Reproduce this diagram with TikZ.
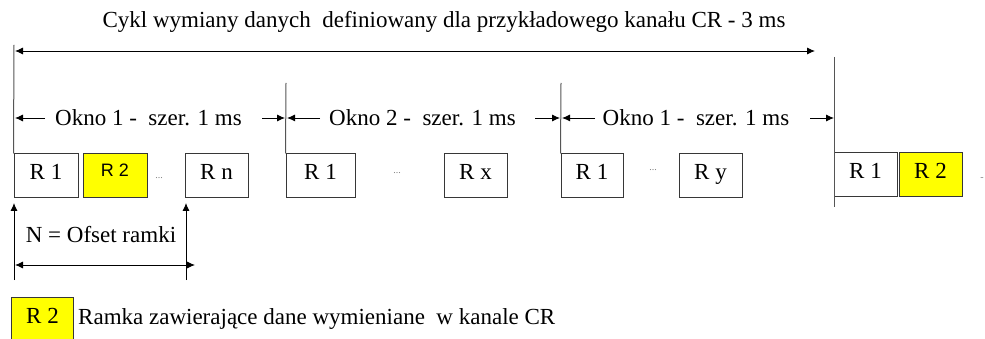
\documentclass[tikz,border=0pt]{standalone}
\usepackage{fontspec}
\setmainfont{Liberation Serif}
\newfontfamily\arialfont{Liberation Sans}
\usetikzlibrary{arrows.meta}
\definecolor{frameyellow}{RGB}{255,255,0}
\definecolor{framegray}{RGB}{55,55,55}
\definecolor{divgray}{RGB}{85,85,85}
\begin{document}
\begin{tikzpicture}[x=1pt,y=-1pt,
  font=\fontsize{23}{27}\selectfont,
  frame/.style={draw=framegray, line width=1pt, minimum height=44pt,
    inner sep=0pt, text height=12pt, text depth=4pt},
  hot/.style={fill=frameyellow},
  dots/.style={inner sep=0pt, text=gray, font=\fontsize{10}{10}\selectfont},
  lbl/.style={anchor=base, inner sep=0pt},
  tip/.style={-{Latex[length=8pt,width=7pt]}, line width=0.9pt},
  twotip/.style={{Latex[length=8pt,width=7pt]}-{Latex[length=8pt,width=7pt]}, line width=0.9pt},
  divider/.style={draw=divgray, line width=1pt}]
\path[use as bounding box, fill=white] (0,0) rectangle (985,339);

% title and the whole-cycle arrow
\node[lbl] (title) at (444,28) {Cykl wymiany danych\ \ definiowany dla przykładowego kanału CR - 3 ms};
\coordinate (cycL) at (15,51);
\coordinate (cycR) at (815,51);
\draw[twotip] (cycL) -- (cycR);

% frames in the three windows and the start of the next cycle
\node[frame, minimum width=64pt] (a1) at (46,176) {R 1};
\node[frame, hot, minimum width=64pt, font=\arialfont\fontsize{18}{20}\selectfont,
  text height=8pt, text depth=6pt] (a2) at (115,176) {R 2};
\node[dots] (adots) at (159,178) {...};
\node[frame, minimum width=63pt] (an) at (216.5,176) {R n};

\node[frame, minimum width=69pt] (b1) at (320.5,176) {R 1};
\node[dots] (bdots) at (397,173) {...};
\node[frame, minimum width=63pt] (bx) at (475.5,176) {R x};

\node[frame, minimum width=62pt] (c1) at (592,176) {R 1};
\node[dots] (cdots) at (653,170) {...};
\node[frame, minimum width=63pt] (cy) at (710.5,176) {R y};

\node[frame, minimum width=63pt] (d1) at (865.5,175) {R 1};
\node[frame, hot, minimum width=63pt] (d2) at (930.5,175) {R 2};
\node[dots] (ddots) at (982,179) {-};

% window boundaries
\coordinate (v0) at (14,45);
\coordinate (v1) at (286,83);
\coordinate (v2) at (561,83);
\coordinate (v3t) at (834,57);
\coordinate (v3b) at (834,207);
\draw[divider] (v0) -- (a1.north west);
\draw[divider] (v1) -- (b1.north west);
\draw[divider] (v2) -- (c1.north west);
\draw[divider] (v3t) -- (v3b);

% window labels with their arrows
\node[lbl] (w1) at (148.5,126) {Okno 1 -\ \ szer. 1 ms};
\node[lbl] (w2) at (422.5,126) {Okno 2 -\ \ szer. 1 ms};
\node[lbl] (w3) at (696,126) {Okno 1 -\ \ szer. 1 ms};
\coordinate (w1a) at (45,118);  \coordinate (w1at) at (15,118);
\coordinate (w1b) at (262,118); \coordinate (w1bt) at (285,118);
\coordinate (w2a) at (320,118); \coordinate (w2at) at (287,118);
\coordinate (w2b) at (535,118); \coordinate (w2bt) at (560,118);
\coordinate (w3a) at (595,118); \coordinate (w3at) at (562,118);
\coordinate (w3b) at (810,118); \coordinate (w3bt) at (834,118);
\draw[tip] (w1a) -- (w1at);
\draw[tip] (w1b) -- (w1bt);
\draw[tip] (w2a) -- (w2at);
\draw[tip] (w2b) -- (w2bt);
\draw[tip] (w3a) -- (w3at);
\draw[tip] (w3b) -- (w3bt);

% frame offset
\coordinate (o1) at (14,280);  \coordinate (o1t) at (14,203);
\coordinate (o2) at (186,280); \coordinate (o2t) at (186,203);
\coordinate (oL) at (15,265);  \coordinate (oR) at (195,265);
\draw[tip] (o1) -- (o1t);
\draw[tip] (o2) -- (o2t);
\draw[twotip] (oL) -- (oR);
\node[lbl] (offset) at (101,243) {N = Ofset ramki};

% legend
\node[frame, hot, minimum width=62pt, anchor=north west] (key) at (11,297) {R 2};
\node[anchor=base west, inner sep=0pt] (keytext) at (78,324) {Ramka zawierające dane wymieniane\ \ w kanale CR};
\end{tikzpicture}
\end{document}
